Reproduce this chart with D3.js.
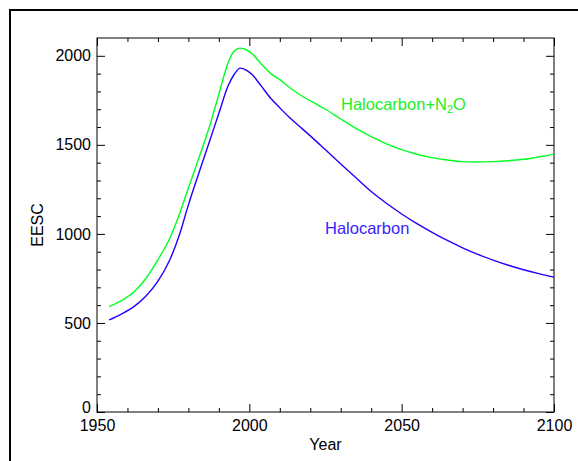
<!DOCTYPE html>
<html>
<head>
<meta charset="utf-8">
<script src="https://cdn.jsdelivr.net/npm/d3@7"></script>
<style>
  html, body { margin: 0; padding: 0; background: #fff; }
  svg { display: block; }
  text { font-family: "Liberation Sans", Arial, Helvetica, sans-serif; }
</style>
</head>
<body>
<svg id="chart" width="578" height="461"></svg>
<script>
const years = [1954,1958,1962,1966,1970,1974,1977,1980,1983,1987,1990,1993,1995,1997,1999,2001,2004,2007,2010,2013,2017,2021,2025,2030,2035,2040,2045,2050,2055,2060,2065,2070,2075,2080,2085,2090,2095,2100];
const halocarbon = [517,550,590,650,735,858,992,1163,1320,1523,1677,1830,1895,1931,1920,1893,1828,1762,1708,1656,1596,1535,1472,1393,1315,1238,1172,1112,1058,1009,963,922,885,853,824,799,777,757];
const halocarbonN2O = [592,625,672,748,855,980,1108,1258,1405,1607,1785,1960,2025,2043,2034,2010,1952,1901,1866,1825,1777,1738,1700,1645,1592,1546,1506,1473,1447,1428,1415,1406,1404,1406,1411,1419,1432,1448];
const xTicks = [1950, 2000, 2050, 2100];
const yTicks = [0, 500, 1000, 1500, 2000];
const seriesNames = ["Halocarbon", "Halocarbon+N2O"];

const svg = d3.select("#chart");
const L = 97, R = 554, T = 38, B = 412;
const x = d3.scaleLinear().domain([1950, 2100]).range([L, R]);
const y = d3.scaleLinear().domain([0, 2100]).range([B, T]);

// outer frame (top and left edges)
svg.append("path").attr("d", `M10,461 L10,10 L578,10`)
  .attr("fill", "none").attr("stroke", "#000").attr("stroke-width", 2);

// axes box
svg.append("rect").attr("x", L).attr("y", T).attr("width", R - L).attr("height", B - T)
  .attr("fill", "none").attr("stroke", "#000").attr("stroke-width", 1);

const xMinor = d3.range(1960, 2100, 10).filter(v => v % 50 !== 0);
const yMinor = d3.range(100, 2100, 100).filter(v => v % 500 !== 0);
const axFont = 16;

// bottom axis
const gB = svg.append("g").attr("transform", `translate(0,${B})`)
  .call(d3.axisBottom(x).tickValues(xTicks).tickSize(-8).tickPadding(8).tickFormat(d3.format("d")));
gB.append("g").call(d3.axisBottom(x).tickValues(xMinor).tickSize(-4).tickFormat(""));
// top axis
const gT = svg.append("g").attr("transform", `translate(0,${T})`)
  .call(d3.axisTop(x).tickValues(xTicks).tickSize(-8).tickFormat(""));
gT.append("g").call(d3.axisTop(x).tickValues(xMinor).tickSize(-4).tickFormat(""));
// left axis
const gL = svg.append("g").attr("transform", `translate(${L},0)`)
  .call(d3.axisLeft(y).tickValues(yTicks).tickSize(-8).tickPadding(6).tickFormat(d3.format("d")));
gL.append("g").call(d3.axisLeft(y).tickValues(yMinor).tickSize(-4).tickFormat(""));
// right axis
const gR = svg.append("g").attr("transform", `translate(${R},0)`)
  .call(d3.axisRight(y).tickValues(yTicks).tickSize(-8).tickFormat(""));
gR.append("g").call(d3.axisRight(y).tickValues(yMinor).tickSize(-4).tickFormat(""));

svg.selectAll(".domain").remove();
svg.selectAll(".tick line").attr("stroke", "#000").attr("stroke-width", 1);
svg.selectAll(".tick text").attr("fill", "#000").attr("font-size", axFont)
  .attr("font-family", "Liberation Sans, Arial, sans-serif");
// lift the "0" label slightly so it clears the year labels (as in the reference)
gL.selectAll(".tick").filter(d => d === 0).select("text").attr("y", -5);

// axis titles
svg.append("text").attr("x", (L + R) / 2).attr("y", 450).attr("text-anchor", "middle")
  .attr("font-size", axFont).attr("fill", "#000").text("Year");
svg.append("text").attr("transform", `translate(43,225) rotate(-90)`).attr("text-anchor", "middle")
  .attr("font-size", axFont).attr("fill", "#000").text("EESC");

// lines
const line = vals => d3.line().x((d, i) => x(years[i])).y(d => y(d)).curve(d3.curveMonotoneX)(vals);
svg.append("path").attr("d", line(halocarbonN2O)).attr("fill", "none")
  .attr("stroke", "#00ff22").attr("stroke-width", 1.4);
svg.append("path").attr("d", line(halocarbon)).attr("fill", "none")
  .attr("stroke", "#2200ff").attr("stroke-width", 1.4);

// labels
const tN = svg.append("text").attr("x", 341).attr("y", 110).attr("font-size", 16.5)
  .attr("fill", "#22ee22");
tN.append("tspan").text("Halocarbon+N");
tN.append("tspan").attr("font-size", 11).attr("dy", 3).text("2");
tN.append("tspan").attr("dy", -3).text("O");

svg.append("text").attr("x", 325).attr("y", 234).attr("font-size", 16.5)
  .attr("fill", "#3a22ff").text(seriesNames[0]);
</script>
</body>
</html>
